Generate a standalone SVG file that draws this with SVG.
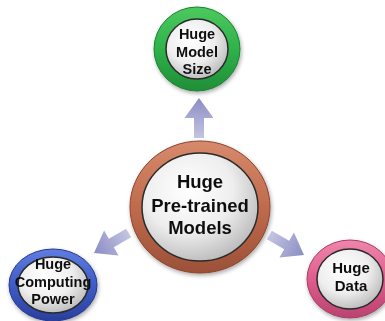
<svg xmlns="http://www.w3.org/2000/svg" width="385" height="321" viewBox="0 0 385 321">
<defs>
<radialGradient id="face" cx="0.4" cy="0.35" r="0.7">
<stop offset="0" stop-color="#ffffff"/>
<stop offset="0.55" stop-color="#eeeeee"/>
<stop offset="1" stop-color="#b8b8b8"/>
</radialGradient>
<linearGradient id="gGreen" x1="0" y1="0" x2="0" y2="1">
<stop offset="0" stop-color="#4cc95e"/>
<stop offset="0.5" stop-color="#2fb24a"/>
<stop offset="1" stop-color="#1f8e37"/>
</linearGradient>
<linearGradient id="gBrown" x1="0" y1="0" x2="0" y2="1">
<stop offset="0" stop-color="#d78a6c"/>
<stop offset="0.5" stop-color="#c06b4c"/>
<stop offset="1" stop-color="#9b5038"/>
</linearGradient>
<linearGradient id="gBlue" x1="0" y1="0" x2="0" y2="1">
<stop offset="0" stop-color="#5f7de0"/>
<stop offset="0.5" stop-color="#3f5cc6"/>
<stop offset="1" stop-color="#2a3f9c"/>
</linearGradient>
<linearGradient id="gPink" x1="0" y1="0" x2="0" y2="1">
<stop offset="0" stop-color="#ef86ac"/>
<stop offset="0.5" stop-color="#df5d8e"/>
<stop offset="1" stop-color="#b9436f"/>
</linearGradient>
<linearGradient id="gArrow" x1="0" y1="0" x2="1" y2="0">
<stop offset="0" stop-color="#c4c4e2"/>
<stop offset="1" stop-color="#8b8dc4"/>
</linearGradient>
<filter id="sh" x="-20%" y="-20%" width="140%" height="140%">
<feGaussianBlur in="SourceAlpha" stdDeviation="2"/>
<feOffset dx="1" dy="2" result="b"/>
<feComponentTransfer><feFuncA type="linear" slope="0.35"/></feComponentTransfer>
<feMerge><feMergeNode/><feMergeNode in="SourceGraphic"/></feMerge>
</filter>
</defs>
<style>
.face{fill:url(#face);stroke:#2a2a2a;stroke-width:1.5}
.lbl{font-family:"Liberation Sans",Arial,sans-serif;font-weight:bold;fill:#111;text-anchor:middle}
.arrow{fill:url(#gArrow)}
</style>
<g id="connectors">
<polygon class="arrow" transform="translate(199,98) rotate(-90)" points="-40,-5 -20,-5 -20,-14.5 0,0 -20,14.5 -20,5 -40,5"/>
<polygon class="arrow" transform="translate(94,253) rotate(150)" points="-40,-5 -20,-5 -20,-14.5 0,0 -20,14.5 -20,5 -40,5"/>
<polygon class="arrow" transform="translate(304,255) rotate(30)" points="-40,-5 -20,-5 -20,-14.5 0,0 -20,14.5 -20,5 -40,5"/>
</g>
<g id="node-size" filter="url(#sh)">
<ellipse cx="197" cy="49" rx="43" ry="42" fill="url(#gGreen)" stroke="#1c7f33" stroke-width="1"/>
<ellipse class="face" cx="197" cy="49" rx="31" ry="30"/>
<text class="lbl" font-size="14.5"><tspan x="197" y="39">Huge</tspan><tspan x="197" y="57">Model</tspan><tspan x="197" y="74">Size</tspan></text>
</g>
<g id="node-center" filter="url(#sh)">
<ellipse cx="200" cy="207" rx="70" ry="66" fill="url(#gBrown)" stroke="#8a4530" stroke-width="1"/>
<ellipse class="face" cx="200" cy="207" rx="58" ry="54"/>
<text class="lbl" font-size="18.5"><tspan x="200" y="188">Huge</tspan><tspan x="200" y="212">Pre-trained</tspan><tspan x="200" y="234">Models</tspan></text>
</g>
<g id="node-compute" filter="url(#sh)">
<ellipse cx="53" cy="285" rx="44" ry="36" fill="url(#gBlue)" stroke="#243790" stroke-width="1"/>
<ellipse class="face" cx="53" cy="285" rx="35" ry="28"/>
<text class="lbl" font-size="14.5"><tspan x="53" y="269">Huge</tspan><tspan x="53" y="287">Computing</tspan><tspan x="53" y="304">Power</tspan></text>
</g>
<g id="node-data" filter="url(#sh)">
<ellipse cx="350" cy="279" rx="43" ry="39" fill="url(#gPink)" stroke="#a83c64" stroke-width="1"/>
<ellipse class="face" cx="350" cy="279" rx="33" ry="30"/>
<text class="lbl" font-size="15"><tspan x="351" y="273">Huge</tspan><tspan x="351" y="291">Data</tspan></text>
</g>
</svg>
